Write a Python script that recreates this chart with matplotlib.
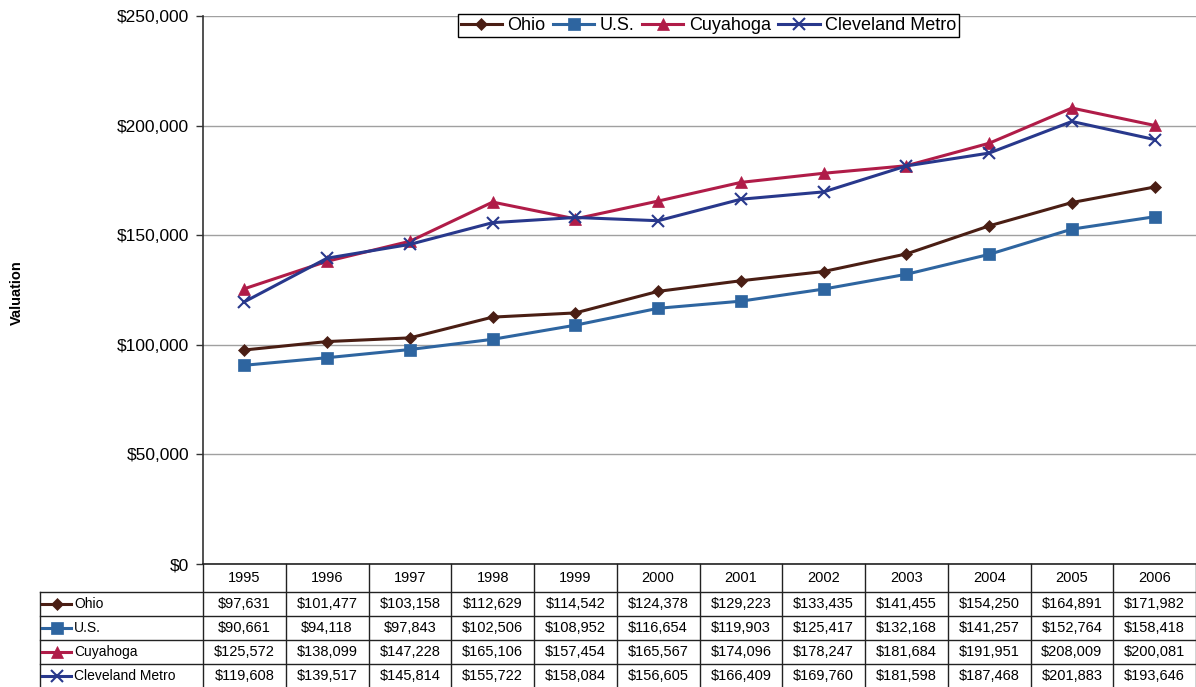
import matplotlib.pyplot as plt
from matplotlib.lines import Line2D
from matplotlib.ticker import FuncFormatter

plt.rcParams['font.family'] = ['Liberation Sans', 'DejaVu Sans']

years = [1995, 1996, 1997, 1998, 1999, 2000, 2001, 2002, 2003, 2004, 2005, 2006]
ohio = [97631, 101477, 103158, 112629, 114542, 124378, 129223, 133435, 141455, 154250, 164891, 171982]
us = [90661, 94118, 97843, 102506, 108952, 116654, 119903, 125417, 132168, 141257, 152764, 158418]
cuyahoga = [125572, 138099, 147228, 165106, 157454, 165567, 174096, 178247, 181684, 191951, 208009, 200081]
cleveland = [119608, 139517, 145814, 155722, 158084, 156605, 166409, 169760, 181598, 187468, 201883, 193646]

names = ["Ohio", "U.S.", "Cuyahoga", "Cleveland Metro"]
series = [ohio, us, cuyahoga, cleveland]
colors = ["#4a1e14", "#2e65a0", "#b01c48", "#28388c"]
markers = ["D", "s", "^", "x"]
msizes = [6, 8, 8, 9]

fig = plt.figure(figsize=(11.96, 6.87), dpi=100)
ax = fig.add_axes([203/1196, 1 - 564/687, 993/1196, 548/687])

x = list(range(len(years)))
for vals, name, c, m, ms in zip(series, names, colors, markers, msizes):
    ax.plot(x, vals, color=c, lw=2.2, marker=m, ms=ms, mew=1.5 if m == "x" else 0.5,
            mec=c, mfc=c, label=name, zorder=3)

ax.set_xlim(-0.5, len(years) - 0.5)
ax.set_ylim(0, 250000)
ax.set_yticks(range(0, 250001, 50000))
ax.yaxis.set_major_formatter(FuncFormatter(lambda v, p: "${:,.0f}".format(v)))
ax.tick_params(axis='y', labelsize=12.5, length=5, width=1, color='#333333', pad=5)
ax.set_xticks([])
ax.grid(axis='y', color='#a0a0a0', lw=1)
ax.set_axisbelow(True)
for s in ['top', 'right']:
    ax.spines[s].set_visible(False)
ax.spines['left'].set_color('#333333')
ax.spines['left'].set_linewidth(1.2)
ax.spines['bottom'].set_color('#222222')
ax.spines['bottom'].set_linewidth(1.2)

fig.text(17/1196, 1 - 293/687, "Valuation", rotation=90, fontsize=10.5, fontweight='bold',
         ha='center', va='center')

leg = ax.legend(loc='upper center', bbox_to_anchor=(0.509, 1.003), ncol=4, fontsize=13,
                frameon=True, fancybox=False, edgecolor='black', framealpha=1,
                handlelength=2.3, handletextpad=0.3, columnspacing=0.4, borderpad=0.15,
                borderaxespad=0)
leg.get_frame().set_linewidth(1)

# data table below the axes (in axes-fraction y, data x)
tr = ax.get_xaxis_transform()
head_h = 28 / 548
row_h = 24 / 548
bottom = -(head_h + 4 * row_h)
left_lab = -0.5 - (163 / 993) * len(years)
lc = '#222222'
# header row
for i, yr in enumerate(years):
    ax.text(i, -head_h / 2, str(yr), transform=tr, ha='center', va='center', fontsize=10.5)
for i in range(len(years) + 1):
    ax.plot([i - 0.5, i - 0.5], [0, bottom], transform=tr, color=lc, lw=1, clip_on=False)
ax.plot([left_lab, left_lab], [-head_h, bottom], transform=tr, color=lc, lw=1, clip_on=False)
for r in range(5):
    yl = -head_h - r * row_h
    ax.plot([left_lab, len(years) - 0.5], [yl, yl], transform=tr, color=lc, lw=1, clip_on=False)

for r, (vals, name, c, m, ms) in enumerate(zip(series, names, colors, markers, msizes)):
    yc = -head_h - (r + 0.5) * row_h
    for i, v in enumerate(vals):
        ax.text(i, yc, "${:,.0f}".format(v), transform=tr, ha='center', va='center', fontsize=10.5)
    x0 = left_lab + 0.03
    x1 = left_lab + 0.38
    ax.add_line(Line2D([x0, x1], [yc, yc], transform=tr, color=c, lw=2.2, clip_on=False))
    ax.add_line(Line2D([(x0 + x1) / 2], [yc], transform=tr, color=c, marker=m, ms=ms,
                       mew=1.5 if m == "x" else 0.5, mec=c, mfc=c, clip_on=False))
    ax.text(x1 + 0.03, yc, name, transform=tr, ha='left', va='center', fontsize=10)

fig.savefig("out.png", dpi=100)
